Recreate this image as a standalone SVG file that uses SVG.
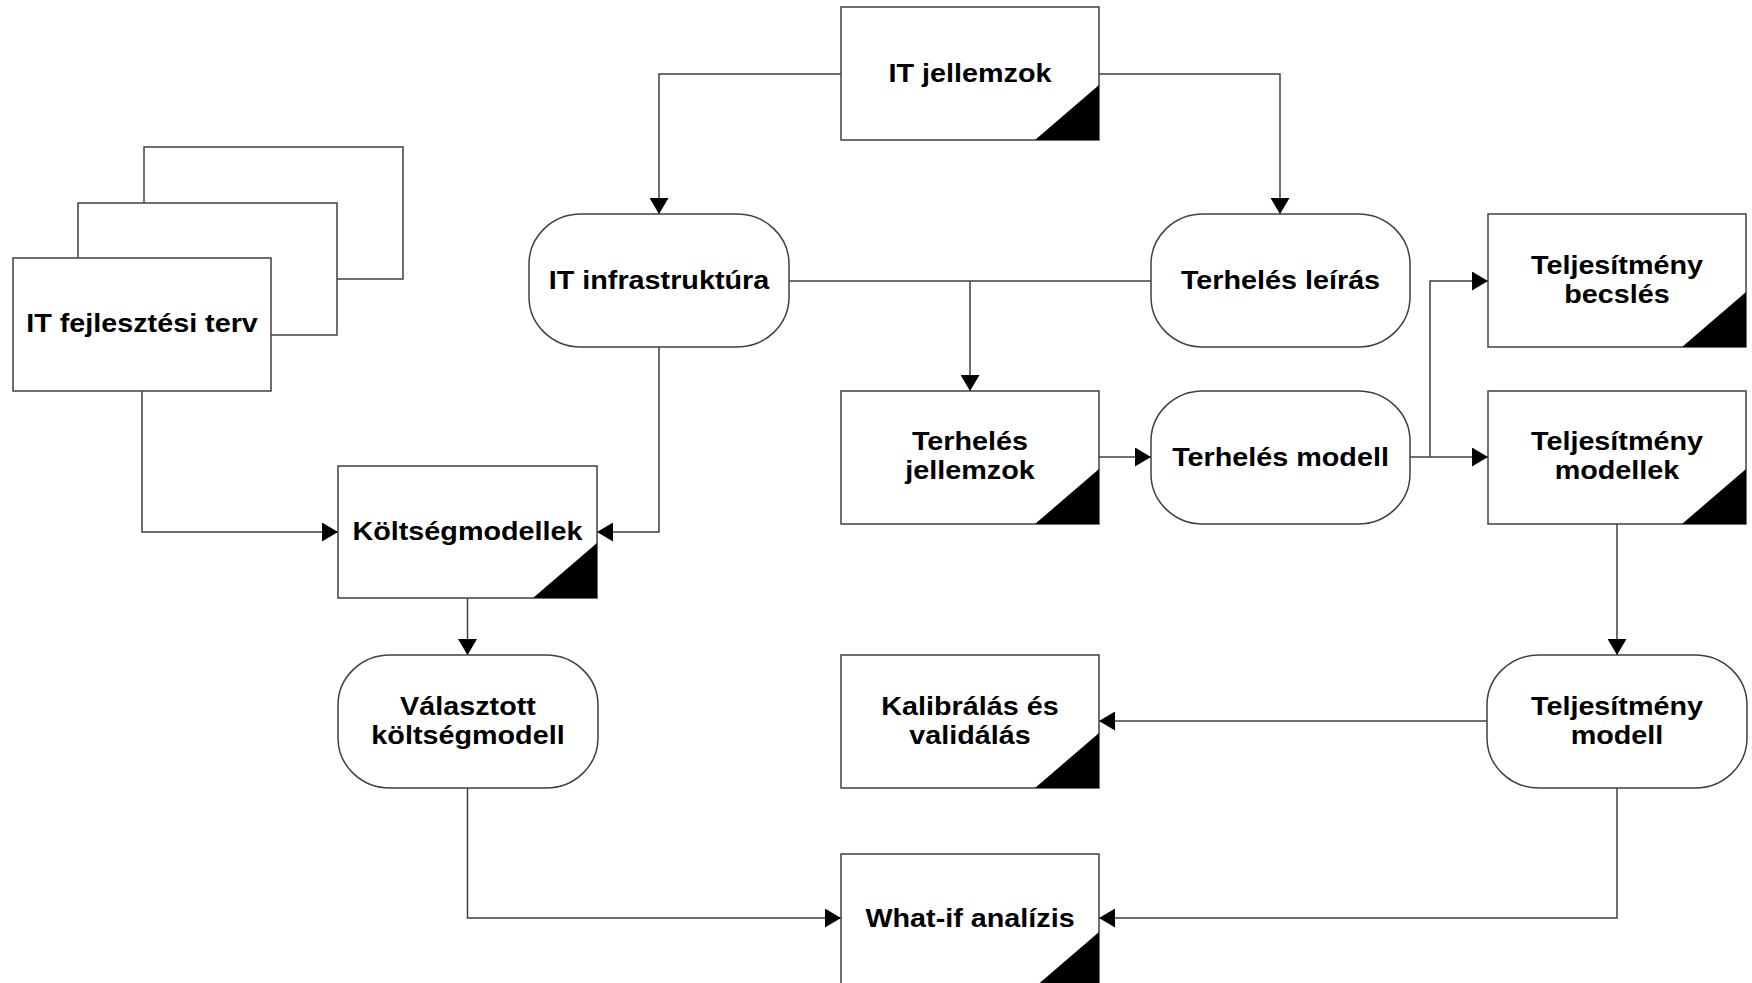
<svg xmlns="http://www.w3.org/2000/svg" width="1752" height="983" viewBox="0 0 1752 983">
<style>
.box{fill:#fff;stroke:#404040;stroke-width:1.5}
.tri{fill:#000}
.ln{fill:none;stroke:#404040;stroke-width:1.5}
.t{font-family:"Liberation Sans",Arial,sans-serif;font-weight:bold;font-size:25px;text-anchor:middle;fill:#000}
</style>
<defs>
<marker id="ah" markerUnits="userSpaceOnUse" markerWidth="17" markerHeight="19" refX="16" refY="9.5" orient="auto">
<path d="M0,0 L16,9.5 L0,19 Z" fill="#000"/>
</marker>
</defs>
<rect width="1752" height="983" fill="#fff"/>
<g id="connectors">
<path class="ln" d="M841,74 H659 V214" marker-end="url(#ah)"/>
<path class="ln" d="M1099,74 H1280 V214" marker-end="url(#ah)"/>
<path class="ln" d="M789,281 H1151"/>
<path class="ln" d="M970,281 V391" marker-end="url(#ah)"/>
<path class="ln" d="M659,347 V532 H597" marker-end="url(#ah)"/>
<path class="ln" d="M142,391 V532 H338" marker-end="url(#ah)"/>
<path class="ln" d="M467.5,598 V655" marker-end="url(#ah)"/>
<path class="ln" d="M467.5,788 V918 H841" marker-end="url(#ah)"/>
<path class="ln" d="M1099,457 H1151" marker-end="url(#ah)"/>
<path class="ln" d="M1410,457 H1488" marker-end="url(#ah)"/>
<path class="ln" d="M1430,457 V281 H1488" marker-end="url(#ah)"/>
<path class="ln" d="M1617,523 V655" marker-end="url(#ah)"/>
<path class="ln" d="M1487,721 H1099" marker-end="url(#ah)"/>
<path class="ln" d="M1617,788 V918 H1099" marker-end="url(#ah)"/>
</g>
<g id="it-fejlesztesi-terv">
<rect class="box" x="144" y="147" width="259" height="132"/>
<rect class="box" x="78" y="203" width="259" height="132"/>
<rect class="box" x="13" y="258" width="258" height="133"/>
<text class="t" transform="translate(142 332) scale(1.15 1)">IT fejlesztési terv</text>
</g>
<g id="it-jellemzok">
<rect class="box" x="841" y="7" width="258" height="133"/>
<polygon class="tri" points="1035,140 1099,140 1099,85"/>
<text class="t" transform="translate(970 82) scale(1.15 1)">IT jellemzok</text>
</g>
<g id="it-infrastruktura">
<rect class="box" x="529" y="214" width="260" height="133" rx="52" ry="50"/>
<text class="t" transform="translate(659 289) scale(1.15 1)">IT infrastruktúra</text>
</g>
<g id="terheles-leiras">
<rect class="box" x="1151" y="214" width="259" height="133" rx="52" ry="50"/>
<text class="t" transform="translate(1280.5 289) scale(1.15 1)">Terhelés leírás</text>
</g>
<g id="teljesitmeny-becsles">
<rect class="box" x="1488" y="214" width="258" height="133"/>
<polygon class="tri" points="1682,347 1746,347 1746,292"/>
<text class="t" transform="translate(1617 274) scale(1.15 1)"><tspan x="0" y="0">Teljesítmény</tspan><tspan x="0" y="29">becslés</tspan></text>
</g>
<g id="terheles-jellemzok">
<rect class="box" x="841" y="391" width="258" height="133"/>
<polygon class="tri" points="1035,524 1099,524 1099,469"/>
<text class="t" transform="translate(970 450) scale(1.15 1)"><tspan x="0" y="0">Terhelés</tspan><tspan x="0" y="29">jellemzok</tspan></text>
</g>
<g id="terheles-modell">
<rect class="box" x="1151" y="391" width="259" height="133" rx="52" ry="50"/>
<text class="t" transform="translate(1280.5 466) scale(1.15 1)">Terhelés modell</text>
</g>
<g id="teljesitmeny-modellek">
<rect class="box" x="1488" y="391" width="258" height="133"/>
<polygon class="tri" points="1682,524 1746,524 1746,469"/>
<text class="t" transform="translate(1617 450) scale(1.15 1)"><tspan x="0" y="0">Teljesítmény</tspan><tspan x="0" y="29">modellek</tspan></text>
</g>
<g id="koltsegmodellek">
<rect class="box" x="338" y="466" width="259" height="132"/>
<polygon class="tri" points="533,598 597,598 597,543"/>
<text class="t" transform="translate(467.5 540) scale(1.15 1)">Költségmodellek</text>
</g>
<g id="valasztott-koltsegmodell">
<rect class="box" x="338" y="655" width="260" height="133" rx="52" ry="50"/>
<text class="t" transform="translate(468 715) scale(1.15 1)"><tspan x="0" y="0">Választott</tspan><tspan x="0" y="29">költségmodell</tspan></text>
</g>
<g id="kalibralas-es-validalas">
<rect class="box" x="841" y="655" width="258" height="133"/>
<polygon class="tri" points="1035,788 1099,788 1099,733"/>
<text class="t" transform="translate(970 715) scale(1.15 1)"><tspan x="0" y="0">Kalibrálás és</tspan><tspan x="0" y="29">validálás</tspan></text>
</g>
<g id="teljesitmeny-modell">
<rect class="box" x="1487" y="655" width="260" height="133" rx="52" ry="50"/>
<text class="t" transform="translate(1617 715) scale(1.15 1)"><tspan x="0" y="0">Teljesítmény</tspan><tspan x="0" y="29">modell</tspan></text>
</g>
<g id="what-if-analizis">
<rect class="box" x="841" y="854" width="258" height="133"/>
<polygon class="tri" points="1035,987 1099,987 1099,932"/>
<text class="t" transform="translate(970 927) scale(1.15 1)">What-if analízis</text>
</g>
</svg>
